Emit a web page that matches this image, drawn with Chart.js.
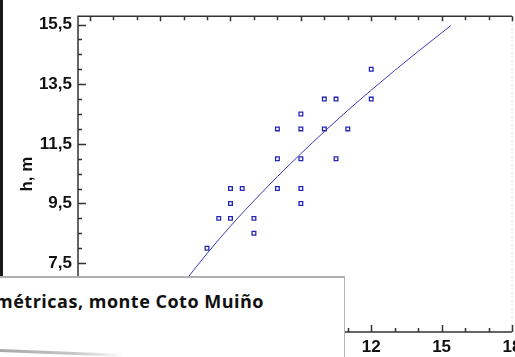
<!DOCTYPE html>
<html>
<head>
<meta charset="utf-8">
<script src="https://cdn.jsdelivr.net/npm/chart.js@4"></script>
<style>
  body { margin: 0; width: 515px; height: 357px; overflow: hidden; position: relative; background: #fff; }
  #wrap { position: absolute; left: 0; top: 0; width: 545px; height: 357px; }
  .edge { position: absolute; left: 0; top: 0; width: 3px; height: 276px; background: #1a1a1a; }
  .caption { position: absolute; left: -2px; top: 276px; width: 347px; height: 100px; box-sizing: border-box;
    background: #fff; border: 1px solid #b5b5b5; border-top: 2px solid #b0b0b0; }
  .caption span { position: absolute; right: 80px; top: 11px; white-space: nowrap; letter-spacing: 0.5px;
    font: bold 18px "Open Sans", sans-serif; color: #111; }
  .curl { position: absolute; left: 0; top: 349px; width: 125px; height: 3px; transform: rotate(2.3deg); transform-origin: left;
    background: linear-gradient(to right, #a8a8a8, #c8c8c8 60%, rgba(255,255,255,0)); }
</style>
</head>
<body>
<div id="wrap"><canvas id="chart" width="545" height="357"></canvas></div>
<div class="edge"></div>
<div class="caption"><span>métricas, monte Coto Muiño</span></div>
<div class="curl"></div>
<script>
  // measured trees (diameter, height)
  const dValues = [5, 5.5, 6, 7, 6, 9, 6, 6.5, 8, 9, 7, 8, 9, 10.5, 8, 9, 10, 11, 9, 10, 10.5, 12, 12];
  const hValues = [8, 9, 9, 9, 9.5, 9.5, 10, 10, 10, 10, 8.5, 11, 11, 11, 12, 12, 12, 12, 12.5, 13, 13, 13, 14];

  // fitted curve
  const fitD = [3, 4, 5, 6, 7, 8, 9, 10, 11, 12, 13, 14, 15, 15.4];
  const fitH = [5.74, 6.83, 7.82, 8.74, 9.59, 10.40, 11.17, 11.91, 12.62, 13.30, 13.96, 14.60, 15.22, 15.47];

  // axis ticks
  const xTicks = [0, 3, 6, 9, 12, 15, 18];
  const yTicks = [5.5, 7.5, 9.5, 11.5, 13.5, 15.5];
  const xMinorStep = 1;
  const yMinorStep = 0.5;

  const axisColor = '#333';
  const blue = '#2424b8';

  // frame + inward tick marks like the original plot
  const tickMarks = {
    id: 'tickMarks',
    afterDraw(chart) {
      const { ctx, chartArea: a, scales: { x, y } } = chart;
      ctx.save();
      ctx.strokeStyle = '#e4e4e4';
      ctx.lineWidth = 1;
      ctx.setLineDash([2, 2]);
      ctx.beginPath();
      ctx.moveTo(a.right, a.top);
      ctx.lineTo(a.right, a.bottom);
      ctx.stroke();
      ctx.setLineDash([]);

      ctx.strokeStyle = axisColor;
      ctx.lineWidth = 1.5;
      ctx.beginPath();
      ctx.moveTo(a.left, a.bottom);
      ctx.lineTo(a.left, a.top);
      ctx.lineTo(a.right, a.top);
      ctx.moveTo(a.left, a.bottom);
      ctx.lineTo(a.right, a.bottom);
      ctx.stroke();

      ctx.beginPath();
      for (let v = xTicks[0]; v <= xTicks[xTicks.length - 1] + 0.001; v += xMinorStep) {
        const px = Math.round(x.getPixelForValue(v)) + 0.5;
        const major = xTicks.includes(v);
        ctx.moveTo(px, a.top);
        ctx.lineTo(px, a.top + (major ? 5 : 4));
        ctx.moveTo(px, a.bottom);
        ctx.lineTo(px, a.bottom - (major ? 7 : 4));
      }
      for (let v = yTicks[0]; v <= yTicks[yTicks.length - 1] + 0.001; v += yMinorStep) {
        const py = Math.round(y.getPixelForValue(v)) + 0.5;
        const major = yTicks.includes(v);
        ctx.moveTo(a.left, py);
        ctx.lineTo(a.left + (major ? 8 : 4), py);
      }
      ctx.stroke();
      ctx.restore();
    }
  };

  const comma = v => String(v).replace('.', ',');

  new Chart(document.getElementById('chart'), {
    type: 'scatter',
    data: {
      datasets: [{
        label: 'h',
        data: dValues.map((d, i) => ({ x: d, y: hValues[i] })),
        pointStyle: 'rect',
        pointRadius: 2.6,
        borderColor: blue,
        borderWidth: 1.3,
        backgroundColor: 'rgba(255,255,255,0)'
      }, {
        label: 'ajuste',
        data: fitD.map((d, i) => ({ x: d, y: fitH[i] })),
        showLine: true,
        pointRadius: 0,
        borderColor: '#3a3ab8',
        borderWidth: 1,
        cubicInterpolationMode: 'monotone'
      }]
    },
    options: {
      responsive: false,
      animation: false,
      layout: { padding: { top: 11, right: 33, left: 0, bottom: 0 } },
      plugins: { legend: { display: false }, tooltip: { enabled: false } },
      scales: {
        x: {
          min: -0.5,
          max: 18,
          grid: { display: false, drawTicks: false },
          border: { display: false },
          afterBuildTicks: s => { s.ticks = xTicks.map(v => ({ value: v })); },
          afterFit: s => { s.height = 25; },
          ticks: {
            padding: 5,
            color: '#111',
            font: { family: 'Liberation Sans', size: 17, weight: 'bold' },
            callback: v => comma(v)
          }
        },
        y: {
          min: 5.19,
          max: 15.78,
          grid: { display: false, drawTicks: false },
          border: { display: false },
          afterBuildTicks: s => { s.ticks = yTicks.map(v => ({ value: v })); },
          afterFit: s => { s.width = 78; },
          title: {
            display: true,
            text: 'h, m',
            color: '#111',
            padding: { top: 17 },
            font: { family: 'Liberation Sans', size: 17, weight: 'bold' }
          },
          ticks: {
            padding: 6,
            color: '#111',
            font: { family: 'Liberation Sans', size: 17, weight: 'bold' },
            callback: v => comma(v)
          }
        }
      }
    },
    plugins: [tickMarks]
  });
</script>
</body>
</html>
